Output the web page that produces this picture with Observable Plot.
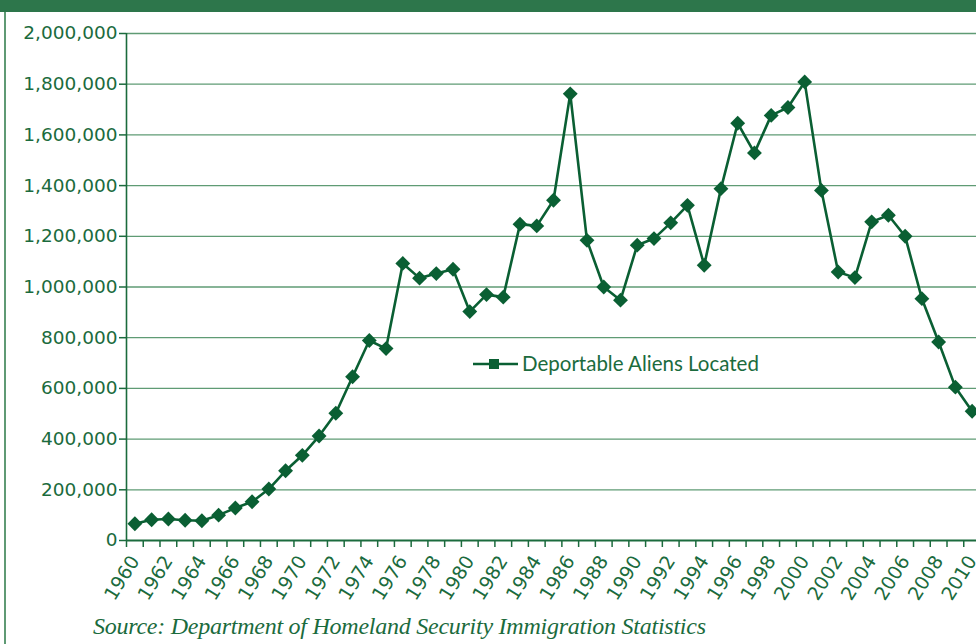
<!DOCTYPE html>
<html>
<head>
<meta charset="utf-8">
<script src="https://cdn.jsdelivr.net/npm/d3@7"></script>
<script src="https://cdn.jsdelivr.net/npm/@observablehq/plot@0.6"></script>
<style>
  body { margin: 0; background: #fff; }
  #wrap { position: relative; width: 976px; height: 644px; overflow: hidden; background: #fff; }
  #topbar { position: absolute; left: 0; top: 0; width: 976px; height: 12px; background: #2d764b; }
  #leftrule { position: absolute; left: 4px; top: 12px; width: 2px; height: 632px; background: #5f9a74; }
  #chart { position: absolute; left: 0; top: 0; }
  #legend { position: absolute; left: 0; top: 0; }
</style>
</head>
<body>
<div id="wrap">
  <div id="topbar"></div>
  <div id="leftrule"></div>
  <div id="chart"></div>
  <svg id="legend" width="976" height="644"></svg>
</div>
<script>
// ---- data ----
const years = [
  1960, 1961, 1962, 1963, 1964, 1965, 1966, 1967, 1968, 1969,
  1970, 1971, 1972, 1973, 1974, 1975, 1976, 1977, 1978, 1979,
  1980, 1981, 1982, 1983, 1984, 1985, 1986, 1987, 1988, 1989,
  1990, 1991, 1992, 1993, 1994, 1995, 1996, 1997, 1998, 1999,
  2000, 2001, 2002, 2003, 2004, 2005, 2006, 2007, 2008, 2009,
  2010
];
const located = [
  66000, 82000, 85000, 80000, 78000, 100000, 128000, 153000, 203000, 275000,
  336000, 412000, 502000, 646000, 789000, 757000, 1093000, 1035000, 1053000, 1070000,
  903000, 970000, 960000, 1248000, 1241000, 1342000, 1762000, 1184000, 1000000, 948000,
  1165000, 1191000, 1253000, 1322000, 1086000, 1388000, 1646000, 1529000, 1677000, 1708000,
  1809000, 1381000, 1059000, 1037000, 1257000, 1283000, 1200000, 954000, 783000, 605000,
  510000
];
const yTicks = [0, 200000, 400000, 600000, 800000, 1000000, 1200000, 1400000, 1600000, 1800000, 2000000];
const xTickLabels = [
  1960, 1962, 1964, 1966, 1968, 1970, 1972, 1974, 1976, 1978, 1980, 1982, 1984,
  1986, 1988, 1990, 1992, 1994, 1996, 1998, 2000, 2002, 2004, 2006, 2008, 2010
];
const seriesName = "Deportable Aliens Located";
const sourceText = "Source: Department of Homeland Security Immigration Statistics";

// ---- styles ----
const textColor = "#1b6b3d";
const lineColor = "#0a5f33";
const gridColor = "#5f9b74";

const data = years.map((year, i) => ({ year, value: located[i] }));
const boundaries = years.map(y => y - 0.5);
const x0 = years[0] - 0.5, x1 = years[years.length - 1] + 0.5;

const chart = Plot.plot({
  width: 976,
  height: 590,
  marginLeft: 126,
  marginRight: -4,
  marginTop: 33,
  marginBottom: 50,
  x: { domain: [x0, x1], axis: null },
  y: { domain: [0, 2000000], axis: null },
  style: { background: "transparent", color: textColor, fontFamily: "DejaVu Sans", fontSize: "18.5px", overflow: "visible" },
  marks: [
    Plot.ruleY(yTicks.slice(1), { x1: x0, x2: x1, stroke: gridColor, strokeWidth: 1.3 }),
    Plot.axisY({ ticks: yTicks, tickFormat: d3.format(","), tickSize: 7, tickPadding: 2, fontSize: 18.5, strokeWidth: 1.5, label: null }),
    Plot.ruleX([x0], { y1: 0, y2: 2000000, stroke: textColor, strokeWidth: 1.6 }),
    Plot.axisX({ ticks: boundaries, tickSize: 7, tickFormat: () => "", strokeWidth: 1.5, label: null }),
    Plot.ruleY([0], { x1: x0, x2: x1, stroke: textColor, strokeWidth: 2 }),
    Plot.text(xTickLabels, {
      x: d => d, frameAnchor: "bottom", text: d => String(d),
      rotate: -58, textAnchor: "end", lineAnchor: "middle",
      dy: 17, dx: 0, fontSize: 19, fill: textColor
    }),
    Plot.line(data, { x: "year", y: "value", stroke: lineColor, strokeWidth: 2.6 }),
    Plot.dot(data, { x: "year", y: "value", symbol: "diamond2", r: 6.7, fill: lineColor, stroke: "none" })
  ]
});
document.getElementById("chart").appendChild(chart);

// ---- legend and source caption ----
const leg = d3.select("#legend");
leg.append("line").attr("x1", 473).attr("x2", 518).attr("y1", 364).attr("y2", 364)
  .attr("stroke", lineColor).attr("stroke-width", 2.6);
leg.append("rect").attr("x", 489).attr("y", 359).attr("width", 10).attr("height", 10).attr("fill", lineColor);
leg.append("text").attr("x", 522).attr("y", 371).text(seriesName)
  .attr("font-family", "Lato").attr("font-size", 20.5).attr("fill", textColor);
leg.append("text").attr("x", 93).attr("y", 634).text(sourceText)
  .attr("font-family", "Liberation Serif").attr("font-style", "italic").attr("font-size", 24)
  .attr("fill", textColor).attr("textLength", 613).attr("lengthAdjust", "spacing");
</script>
</body>
</html>
